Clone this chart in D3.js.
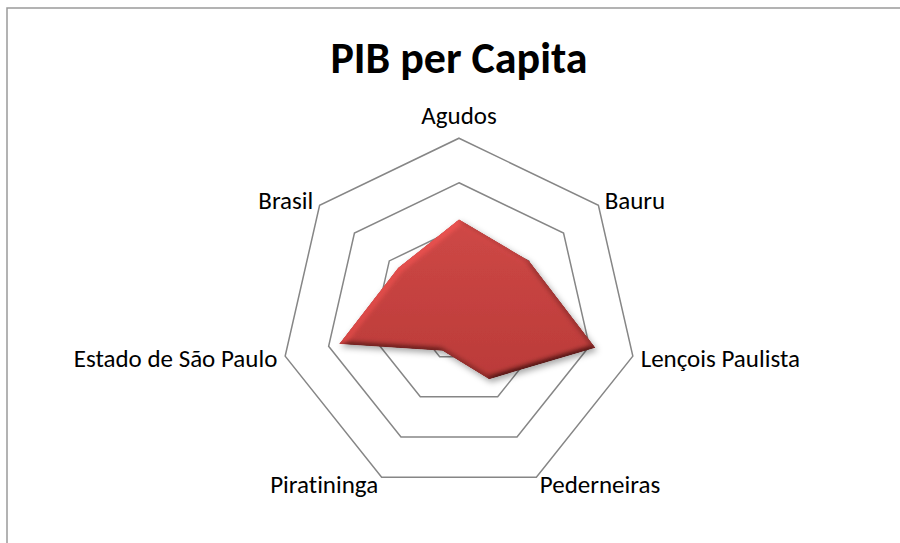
<!DOCTYPE html>
<html>
<head>
<meta charset="utf-8">
<script src="https://cdn.jsdelivr.net/npm/d3@7"></script>
<style>
  html, body { margin: 0; padding: 0; background: #fff; }
  svg { display: block; }
  text { font-variant-ligatures: none; font-feature-settings: "liga" 0; }
</style>
</head>
<body>
<svg id="chart" width="900" height="543"></svg>
<script>
// PIB per capita (R$) by locality
const categories = ["Agudos", "Bauru", "Lençois Paulista", "Pederneiras", "Piratininga", "Estado de São Paulo", "Brasil"];
const values = [21800, 20100, 31400, 15600, 8500, 27600, 17500];
const ringTicks = [10000, 20000, 30000, 40000];
const chartTitle = "PIB per Capita";

const svg = d3.select("#chart");
const W = 900, H = 543;
const cx = 459, cy = 316.5, R = 178.3;
const fontFamily = "Carlito, Calibri, Lato, 'Open Sans', sans-serif";

const r = d3.scaleLinear().domain([0, d3.max(ringTicks)]).range([0, R]);
const angle = d3.scalePoint().domain(d3.range(categories.length + 1)).range([0, 2 * Math.PI]);
const a = i => angle(i);
const pt = (i, v) => [cx + r(v) * Math.sin(a(i)), cy - r(v) * Math.cos(a(i))];

// Defs: gradient and bevel/shadow filter for the filled series
const defs = svg.append("defs");
const grad = defs.append("linearGradient").attr("id", "fillGrad")
  .attr("x1", 0).attr("y1", 0).attr("x2", 0).attr("y2", 1);
grad.append("stop").attr("offset", "0%").attr("stop-color", "#cf4846");
grad.append("stop").attr("offset", "100%").attr("stop-color", "#bb3b39");

const f = defs.append("filter").attr("id", "bevel")
  .attr("x", "-10%").attr("y", "-10%").attr("width", "130%").attr("height", "130%");
f.append("feGaussianBlur").attr("in", "SourceAlpha").attr("stdDeviation", 3).attr("result", "blur");
const diff = f.append("feDiffuseLighting").attr("in", "blur").attr("surfaceScale", 4)
  .attr("diffuseConstant", 1).attr("lighting-color", "#ffffff").attr("result", "diff");
diff.append("feDistantLight").attr("azimuth", 225).attr("elevation", 50);
f.append("feComposite").attr("in", "SourceGraphic").attr("in2", "diff")
  .attr("operator", "arithmetic").attr("k1", 1.3).attr("k2", 0).attr("k3", 0).attr("k4", 0)
  .attr("result", "lit");
f.append("feComposite").attr("in", "lit").attr("in2", "SourceAlpha").attr("operator", "in").attr("result", "litIn");
f.append("feOffset").attr("in", "blur").attr("dx", 2).attr("dy", 3).attr("result", "off");
f.append("feFlood").attr("flood-color", "#000").attr("flood-opacity", 0.35).attr("result", "fl");
f.append("feComposite").attr("in", "fl").attr("in2", "off").attr("operator", "in").attr("result", "shadow");
const m = f.append("feMerge");
m.append("feMergeNode").attr("in", "shadow");
m.append("feMergeNode").attr("in", "litIn");

// Chart area frame
svg.append("rect")
  .attr("x", 7).attr("y", 8).attr("width", W + 20).attr("height", H + 20)
  .attr("fill", "#fff").attr("stroke", "#9a9a9a").attr("stroke-width", 1.5);

// Title
svg.append("text")
  .attr("x", cx).attr("y", 73)
  .attr("text-anchor", "middle")
  .attr("font-family", fontFamily).attr("font-weight", "bold").attr("font-size", 44)
  .attr("fill", "#000")
  .text(chartTitle);

// Grid rings (heptagons)
const idx = d3.range(categories.length);
const ringLine = d3.line();
svg.append("g").selectAll("path")
  .data(ringTicks)
  .join("path")
  .attr("d", t => ringLine(idx.map(i => pt(i, t))) + "Z")
  .attr("fill", "none")
  .attr("stroke", "#868686")
  .attr("stroke-width", 1.5)
  .attr("stroke-linejoin", "miter");

// Series area
svg.append("path")
  .datum(values)
  .attr("d", d => ringLine(d.map((v, i) => pt(i, v))) + "Z")
  .attr("fill", "url(#fillGrad)")
  .attr("filter", "url(#bevel)");

// Category labels
const labelR = R + 8;
svg.append("g").selectAll("text")
  .data(categories)
  .join("text")
  .each(function (c, i) {
    const s = Math.sin(a(i)), co = Math.cos(a(i));
    const x = cx + labelR * s, y = cy - labelR * co;
    d3.select(this)
      .attr("x", x)
      .attr("y", co > 0.9 ? y - 6 : y + 9)
      .attr("text-anchor", s > 0.1 ? "start" : (s < -0.1 ? "end" : "middle"));
  })
  .attr("font-family", fontFamily)
  .attr("font-size", 25)
  .attr("fill", "#000")
  .text(d => d);
</script>
</body>
</html>
